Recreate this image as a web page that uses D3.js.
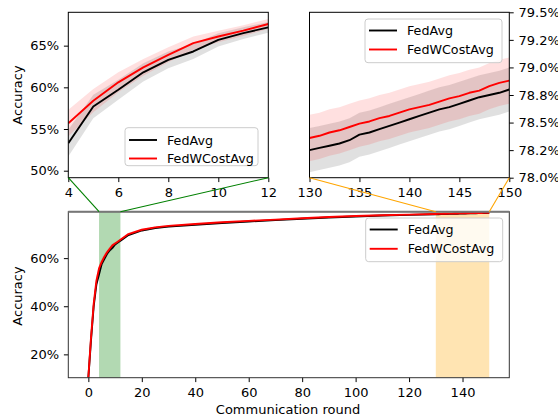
<!DOCTYPE html>
<html>
<head>
<meta charset="utf-8">
<script src="https://cdn.jsdelivr.net/npm/d3@7"></script>
<style>
  body { margin: 0; background: #fff; }
  svg { display: block; font-family: "DejaVu Sans", sans-serif; }
</style>
</head>
<body>
<div id="chart"></div>
<script>
// ===============================
// Data (accuracy in %)
// ===============================
const rounds = [0, 1, 2, 3, 4, 5, 6, 7, 8, 9, 10, 11, 12,
  15, 20, 25, 30, 40, 50, 60, 70, 80, 90, 100, 110, 120,
  130, 131, 132, 133, 134, 135, 136, 137, 138, 139, 140,
  141, 142, 143, 144, 145, 146, 147, 148, 149, 150];

const fedAvg = [10.2, 26.0, 40.0, 49.0, 53.3, 57.7, 59.7, 61.8, 63.3, 64.3, 65.7, 66.5, 67.2,
  69.6, 71.5, 72.5, 73.1, 73.9, 74.6, 75.2, 75.8, 76.4, 76.9, 77.3, 77.7, 78.0,
  78.25, 78.27, 78.29, 78.31, 78.34, 78.39, 78.41, 78.44, 78.47, 78.50, 78.53,
  78.56, 78.59, 78.62, 78.64, 78.67, 78.70, 78.73, 78.75, 78.77, 78.80];

const fedWCostAvg = [10.5, 27.0, 41.0, 50.5, 55.7, 58.4, 60.6, 62.4, 63.9, 65.3, 66.1, 66.8, 67.6,
  70.0, 71.8, 72.8, 73.4, 74.2, 74.9, 75.5, 76.0, 76.6, 77.1, 77.5, 77.85, 78.1,
  78.36, 78.38, 78.41, 78.43, 78.46, 78.49, 78.51, 78.54, 78.56, 78.59, 78.62,
  78.64, 78.66, 78.69, 78.72, 78.74, 78.77, 78.79, 78.83, 78.86, 78.88];

const fedAvgStd = [1.5, 1.8, 1.8, 1.7, 1.6, 1.4, 1.2, 1.1, 1.0, 0.9, 0.8, 0.7, 0.65,
  0.55, 0.45, 0.4, 0.35, 0.3, 0.28, 0.25, 0.22, 0.2, 0.2, 0.2, 0.2, 0.2,
  0.2, 0.2, 0.2, 0.2, 0.2, 0.2, 0.2, 0.2, 0.2, 0.2, 0.2,
  0.2, 0.2, 0.2, 0.2, 0.2, 0.2, 0.2, 0.2, 0.2, 0.2];

const fedWCostAvgStd = [1.5, 1.8, 1.8, 1.7, 1.6, 1.4, 1.2, 1.0, 0.9, 0.8, 0.7, 0.65, 0.6,
  0.55, 0.45, 0.4, 0.35, 0.3, 0.28, 0.25, 0.22, 0.21, 0.21, 0.21, 0.21, 0.21,
  0.21, 0.21, 0.21, 0.21, 0.21, 0.21, 0.21, 0.21, 0.21, 0.21, 0.21,
  0.21, 0.21, 0.21, 0.21, 0.21, 0.21, 0.21, 0.21, 0.21, 0.21];

const seriesNames = ["FedAvg", "FedWCostAvg"];

const leftXTicks = [4, 6, 8, 10, 12];
const leftYTicks = [50, 55, 60, 65];
const rightXTicks = [130, 135, 140, 145, 150];
const rightYTicks = [78.0, 78.25, 78.5, 78.75, 79.0, 79.25, 79.5];
const rightYTickLabels = ["78.0%", "78.2%", "78.5%", "78.8%", "79.0%", "79.2%", "79.5%"];
const mainXTicks = [0, 20, 40, 60, 80, 100, 120, 140];
const mainYTicks = [20, 40, 60];

const zoomA = [4, 12];
const zoomB = [130, 150];

// ===============================
// Constants
// ===============================
const W = 558, H = 419;
const fontSize = 13;
const tickLen = 4.4;
const lineW = 1.9;
const colors = ["#000000", "#ff0000"];

const table = rounds.map((r, i) => ({
  r,
  v: [fedAvg[i], fedWCostAvg[i]],
  s: [fedAvgStd[i], fedWCostAvgStd[i]]
}));

const svg = d3.select("#chart").append("svg")
  .attr("width", W).attr("height", H);
const defs = svg.append("defs");

// panel helper
function drawPanel(cfg) {
  const x = d3.scaleLinear().domain(cfg.xDomain).range([cfg.left, cfg.right]);
  const y = d3.scaleLinear().domain(cfg.yDomain).range([cfg.bottom, cfg.top]);
  const g = svg.append("g");

  defs.append("clipPath").attr("id", cfg.id)
    .append("rect")
    .attr("x", cfg.left).attr("y", cfg.top)
    .attr("width", cfg.right - cfg.left).attr("height", cfg.bottom - cfg.top);

  const plot = g.append("g").attr("clip-path", `url(#${cfg.id})`);

  // spans (bottom panel only)
  (cfg.spans || []).forEach(sp => {
    plot.append("rect")
      .attr("x", x(sp.range[0])).attr("y", cfg.top)
      .attr("width", x(sp.range[1]) - x(sp.range[0]))
      .attr("height", cfg.bottom - cfg.top)
      .attr("fill", sp.color).attr("fill-opacity", 0.3);
  });

  const data = table.filter(d => d.r >= cfg.range[0] && d.r <= cfg.range[1]);

  [0, 1].forEach(k => {
    const area = d3.area()
      .x(d => x(d.r))
      .y0(d => y(d.v[k] - d.s[k]))
      .y1(d => y(d.v[k] + d.s[k]));
    plot.append("path").datum(data)
      .attr("d", area)
      .attr("fill", colors[k])
      .attr("fill-opacity", 0.12);
  });

  [0, 1].forEach(k => {
    const line = d3.line().x(d => x(d.r)).y(d => y(d.v[k]));
    plot.append("path").datum(data)
      .attr("d", line)
      .attr("fill", "none")
      .attr("stroke", colors[k])
      .attr("stroke-width", lineW)
      .attr("stroke-linejoin", "round");
  });

  // axes
  const xAxis = d3.axisBottom(x).tickValues(cfg.xTicks)
    .tickSize(tickLen).tickPadding(5.5).tickFormat(d3.format("d"));
  g.append("g").attr("transform", `translate(0,${cfg.bottom})`).call(xAxis);

  const yAxisFn = cfg.yRight ? d3.axisRight(y) : d3.axisLeft(y);
  const yAxis = yAxisFn.tickValues(cfg.yTicks)
    .tickSize(tickLen).tickPadding(4.8)
    .tickFormat((d, i) => cfg.yLabels ? cfg.yLabels[i] : d + "%");
  g.append("g")
    .attr("transform", `translate(${cfg.yRight ? cfg.right : cfg.left},0)`)
    .call(yAxis);

  g.selectAll(".domain").remove();
  g.selectAll(".tick line").attr("stroke", "#000").attr("stroke-width", 1);
  g.selectAll(".tick text")
    .attr("fill", "#000")
    .attr("font-size", fontSize)
    .attr("font-family", "DejaVu Sans");

  // frame
  g.append("rect")
    .attr("x", cfg.left).attr("y", cfg.top)
    .attr("width", cfg.right - cfg.left).attr("height", cfg.bottom - cfg.top)
    .attr("fill", "none")
    .attr("stroke", cfg.frame || "#000")
    .attr("stroke-width", 1);

  if (cfg.topEdge) {
    g.append("line")
      .attr("x1", cfg.left).attr("x2", cfg.right)
      .attr("y1", cfg.top).attr("y2", cfg.top)
      .attr("stroke", cfg.topEdge).attr("stroke-width", 2);
  }

  return { x, y, g };
}

function drawLegend(lx, ly, lw, lh, rowY) {
  const lg = svg.append("g");
  lg.append("rect")
    .attr("x", lx).attr("y", ly).attr("width", lw).attr("height", lh)
    .attr("rx", 3).attr("ry", 3)
    .attr("fill", "#fff").attr("fill-opacity", 0.8)
    .attr("stroke", "#cccccc").attr("stroke-width", 1);
  seriesNames.forEach((name, i) => {
    lg.append("line")
      .attr("x1", lx + 4).attr("x2", lx + 32)
      .attr("y1", rowY[i]).attr("y2", rowY[i])
      .attr("stroke", colors[i]).attr("stroke-width", lineW);
    lg.append("text")
      .attr("x", lx + 42).attr("y", rowY[i]).attr("dy", "0.36em")
      .attr("font-size", 12.7).attr("fill", "#000")
      .text(name);
  });
}

// ===============================
// Panels
// ===============================
const pA = drawPanel({
  id: "clipA", left: 68.3, right: 268.3, top: 12.3, bottom: 177.7,
  xDomain: zoomA, yDomain: [49.16, 69.0], range: zoomA,
  xTicks: leftXTicks, yTicks: leftYTicks
});

const pB = drawPanel({
  id: "clipB", left: 309.5, right: 509.3, top: 12.3, bottom: 177.7,
  xDomain: zoomB, yDomain: [78.0, 79.5], range: zoomB,
  xTicks: rightXTicks, yTicks: rightYTicks, yLabels: rightYTickLabels, yRight: true
});

const pM = drawPanel({
  id: "clipM", left: 68.3, right: 509.3, top: 211.7, bottom: 377.7,
  xDomain: [-7.5, 157.5], yDomain: [10.3, 79.3], range: [0, 150],
  xTicks: mainXTicks, yTicks: mainYTicks,
  frame: "#333", topEdge: "#777",
  spans: [{ range: zoomA, color: "green" }, { range: zoomB, color: "orange" }]
});

// connector lines between zoom panels and spans
function connect(pTop, pBot, xv, topY, botY, color) {
  svg.append("line")
    .attr("x1", pTop.x(xv)).attr("y1", topY)
    .attr("x2", pBot.x(xv)).attr("y2", botY)
    .attr("stroke", color).attr("stroke-width", 1.1);
}
connect(pA, pM, zoomA[0], 177.7, 211.7, "green");
connect(pA, pM, zoomA[1], 177.7, 211.7, "green");
connect(pB, pM, zoomB[0], 177.7, 211.7, "orange");
connect(pB, pM, zoomB[1], 177.7, 211.7, "orange");

// legends
drawLegend(125, 127.7, 133, 38, [140, 158.5]);
drawLegend(365, 19, 137, 43.7, [30.5, 49.5]);
drawLegend(365.7, 218, 137, 43.7, [229.5, 248.8]);

// axis labels
function yLabel(cx, cy) {
  svg.append("text")
    .attr("transform", `translate(${cx},${cy}) rotate(-90)`)
    .attr("text-anchor", "middle")
    .attr("font-size", fontSize).attr("fill", "#000")
    .text("Accuracy");
}
yLabel(22, 95);
yLabel(22, 296);

svg.append("text")
  .attr("x", 288).attr("y", 414)
  .attr("text-anchor", "middle")
  .attr("font-size", fontSize).attr("fill", "#000")
  .text("Communication round");
</script>
</body>
</html>
